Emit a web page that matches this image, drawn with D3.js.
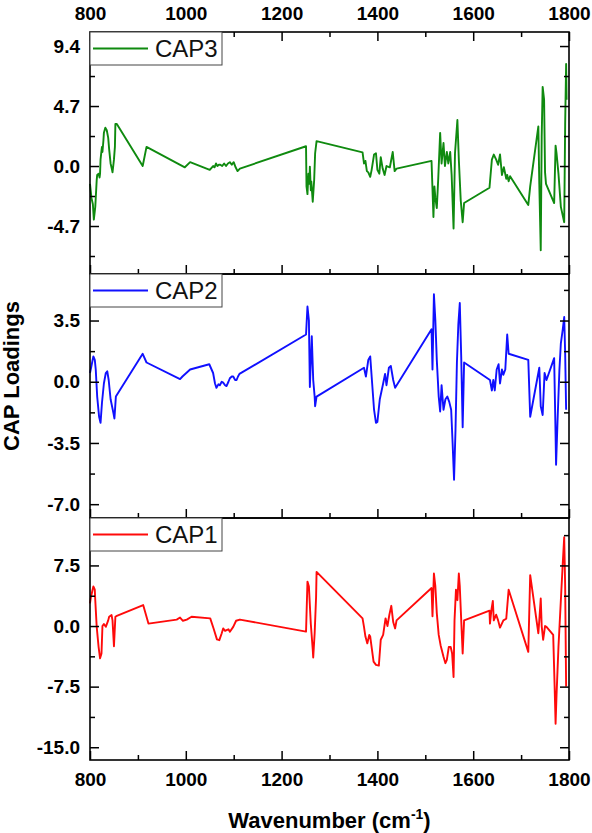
<!DOCTYPE html>
<html>
<head>
<meta charset="utf-8">
<script src="https://cdn.jsdelivr.net/npm/d3@7"></script>
<style>
  body { margin: 0; background: #fff; }
  text { font-family: "Liberation Sans", Arial, sans-serif; }
</style>
</head>
<body>
<div id="chart"></div>
<script>
var width = 592, height = 833;
var xRange = [90, 569];

// x axis ticks (wavenumber)
var xMajor = [800, 1000, 1200, 1400, 1600, 1800];
var xMinor = [900, 1100, 1300, 1500, 1700];

// CAP3 (top panel)
var cap3Wn = [800, 803, 806, 808, 811, 814, 815, 818, 820, 821, 822, 824, 825, 826, 828, 829, 832, 835, 838, 840, 843, 846, 847, 850, 852, 853, 856,
  910, 918, 998, 1009, 1050, 1057, 1060, 1063, 1066, 1069, 1072, 1076, 1080, 1084, 1088, 1092, 1096, 1100, 1104, 1108, 1113,
  1251, 1252, 1254, 1256, 1258, 1259, 1261, 1262, 1265, 1268, 1270, 1273,
  1369, 1372, 1375, 1378, 1381, 1385, 1388, 1393, 1397, 1400, 1404, 1407, 1411, 1415, 1419, 1426, 1432, 1436, 1440,
  1513, 1517, 1519, 1521, 1524, 1527, 1531, 1534, 1538, 1541, 1545, 1548, 1552, 1555, 1559, 1562, 1567, 1570, 1574, 1578, 1581,
  1634, 1639, 1643, 1648, 1652, 1656, 1660, 1664, 1669, 1671, 1674, 1677,
  1715, 1719, 1736, 1738, 1741, 1743, 1745, 1748, 1750, 1752,
  1769, 1772, 1774, 1778, 1783, 1790, 1792, 1794, 1795];
var cap3Val = [-1.4, -2.5, -3.0, -4.2, -3.2, -1.1, -0.7, -0.6, -0.9, -0.6, 0.5, 1.2, 1.5, 1.1, 2.0, 2.6, 3.0, 2.8, 2.2, 1.3, 0.2, -0.3, -0.5, 0.5, 1.5, 3.3, 3.3,
  0.0, 1.5, -0.1, 0.3, -0.3, 0.0, -0.1, 0.2, 0.0, 0.1, 0.1, 0.0, 0.2, 0.0, 0.2, 0.3, 0.1, 0.3, -0.1, -0.4, -0.2,
  1.55, -1.6, -2.2, -0.6, -1.4, -0.05, -1.9, -1.2, -2.8, -1.1, 1.0, 1.95,
  1.07, 0.2, 0.4, -0.4, -0.5, -0.85, -0.3, 0.9, 1.0, -0.3, -0.6, 0.7, -0.2, -0.7, 0.0, -0.1, 1.1, -0.4, -0.2,
  0.4, -4.0, -1.6, -2.5, -3.3, -1.0, 2.6, 0.2, 1.8, 0.0, 1.1, 0.2, 1.1, -0.7, -4.9, 1.0, 3.6, 0.5, -2.7, -4.4, -2.9,
  -1.7, 0.5, 0.9, 0.5, 0.1, 0.9, -0.7, -0.1, -1.0, -0.7, -1.2, -0.8,
  -3.05, -1.6, 3.1, -1.4, -6.6, 2.3, 6.2, 5.2, -0.5, -1.4,
  -2.9, 1.6, 1.0, -0.6, -3.2, -4.4, 3.3, 8.0, 5.2];

// CAP2 (middle panel)
var cap2Wn = [800, 803, 807, 810, 812, 815, 819, 822, 825, 829, 833, 836, 839, 843, 849, 851, 854,
  910, 918, 988, 993, 1009, 1049, 1057, 1061, 1064, 1068, 1071, 1075, 1078, 1082, 1085, 1089, 1092, 1096, 1099, 1103, 1106, 1109, 1112,
  1251, 1254, 1257, 1259, 1263, 1266, 1269, 1270, 1273,
  1372, 1376, 1381, 1385, 1388, 1393, 1397, 1400, 1405, 1412, 1416, 1419, 1424, 1428, 1433, 1437,
  1513, 1515, 1518, 1521, 1524, 1528, 1531, 1534, 1538, 1542, 1546, 1550, 1554, 1557, 1560, 1563, 1566, 1569, 1572, 1575, 1578, 1581,
  1635, 1639, 1642, 1645, 1649, 1653, 1656, 1660, 1663, 1667, 1671, 1674,
  1715, 1719, 1738, 1741, 1745, 1749, 1753, 1769, 1772, 1773, 1776, 1780, 1783, 1787, 1790, 1792, 1794];
var cap2Val = [0.5, 0.9, 1.45, 1.25, 0.7, -0.85, -2.0, -2.35, -1.2, -0.1, 0.5, 0.6, 0.1, -1.0, -1.8, -2.1, -0.85,
  1.6, 1.1, 0.15, 0.3, 0.7, 1.0, 0.5, -0.1, -0.35, -0.15, -0.2, 0.0, -0.05, -0.2, -0.25, 0.0, 0.2, 0.3, 0.3, 0.1, 0.1, 0.3, 0.45,
  2.7, 4.3, 3.5, -0.3, 2.6, 0.1, -0.85, -1.4, -0.85,
  0.8, 0.3, 1.25, 1.45, 0.3, -1.6, -2.35, -2.3, -1.0, -0.1, 0.45, -0.2, 0.8, 0.9, 0.1, -0.35,
  3.0, 0.7, 5.0, 3.5, 1.25, -0.85, -1.7, -0.2, -1.6, -1.0, -0.85, -1.15, -1.6, -3.5, -5.6, -2.8, 1.1, 3.3, 4.5, 1.4, -2.6, 1.1,
  0.1, -0.5, 0.1, -0.5, 0.7, 1.0, -0.1, 0.7, 0.4, 0.7, 2.7, 1.6,
  1.25, -2.0, 0.8, -1.4, -1.9, 0.5, 0.1, 1.35, -3.1, -4.75, -2.3, 0.7, 2.2, 3.0, 3.7, 1.6, -1.6];

// CAP1 (bottom panel)
var cap1Wn = [800, 802, 807, 810, 811, 814, 818, 821, 824, 826, 829, 833, 838, 840, 845, 847, 850, 853, 856,
  911, 922, 981, 988, 994, 1002, 1012, 1051, 1058, 1065, 1070, 1075, 1078, 1082, 1085, 1089, 1092, 1099, 1105, 1113,
  1251, 1254, 1257, 1261, 1265, 1266, 1269, 1272, 1273,
  1369, 1372, 1375, 1379, 1383, 1385, 1392, 1397, 1403, 1407, 1412, 1417, 1421, 1425, 1429, 1433, 1437, 1440,
  1513, 1515, 1518, 1521, 1524, 1528, 1532, 1538, 1542, 1545, 1549, 1553, 1556, 1559, 1561, 1564, 1567, 1570, 1572, 1575, 1578, 1581,
  1634, 1635, 1638, 1641, 1643, 1648, 1652, 1656, 1663, 1669, 1674,
  1715, 1719, 1736, 1738, 1741, 1743, 1746, 1750, 1753, 1767, 1770, 1772, 1774, 1778, 1783, 1787, 1790, 1792, 1794];
var cap1Val = [2.8, 3.6, 4.9, 4.5, 3.2, -0.1, -2.6, -4.0, -3.4, 0.0, 0.25, -0.1, 0.7, 1.15, 1.35, 0.7, -2.5, 1.15, 1.25,
  2.6, 0.3, 0.8, 1.05, 0.65, 0.8, 1.15, 0.95, -0.3, -1.65, -1.75, -0.9, -0.3, -0.6, -0.5, -0.4, -0.7, -0.1, 0.65, 0.8,
  -0.7, 5.5, 4.9, 0.25, -2.9, -3.9, -0.9, 3.6, 6.7,
  0.95, -0.1, -1.3, -2.15, -1.1, -1.3, -4.4, -4.8, -4.9, -1.7, -1.1, 0.95, 0.0, 1.4, 2.5, 0.5, -0.3, 0.7,
  4.7, 1.2, 6.5, 4.9, 1.6, -1.1, -2.4, -3.8, -4.6, -4.2, -2.6, -2.6, -3.4, -6.3, 0.7, 4.5, 3.2, 6.5, 4.9, 0.7, -3.4, 0.7,
  1.9, 0.3, 2.0, 3.1, 0.7, 1.4, 0.7, -0.2, 0.7, 0.9, 4.5,
  -3.2, 6.3, -0.9, 0.7, 3.4, 0.0, -1.7, 0.0, -0.1, -1.1, -7.5, -12.1, -8.5, -2.6, 3.2, 7.8, 11.0, 4.9, -7.5];

// panel settings: y domain and tick values
var panels = [
  { name: "CAP3", color: "#0f8a0f", wn: cap3Wn, val: cap3Val, top: 32, bottom: 274,
    domain: [-8.46, 10.5], major: [-4.7, 0, 4.7, 9.4], minor: [-7.05, -2.35, 2.35, 7.05] },
  { name: "CAP2", color: "#1010ff", wn: cap2Wn, val: cap2Val, top: 274, bottom: 518,
    domain: [-7.79, 6.16], major: [-7, -3.5, 0, 3.5], minor: [-5.25, -1.75, 1.75, 5.25] },
  { name: "CAP1", color: "#ff0a0a", wn: cap1Wn, val: cap1Val, top: 518, bottom: 760,
    domain: [-16.58, 13.37], major: [-15, -7.5, 0, 7.5], minor: [-11.25, -3.75, 3.75, 11.25] }
];

var svg = d3.select("#chart").append("svg")
  .attr("width", width)
  .attr("height", height);

var x = d3.scaleLinear().domain([800, 1800]).range(xRange);

function styleAxis(g) {
  g.select(".domain").remove();
  g.selectAll(".tick line").attr("stroke", "#000").attr("stroke-width", 1.5);
  g.selectAll(".tick text").attr("fill", "#000")
    .style("font-size", "19px").style("font-weight", "bold");
}

panels.forEach(function (p, i) {
  var y = d3.scaleLinear().domain(p.domain).range([p.bottom, p.top]);
  var fmt = function (d) { return d.toFixed(1); };

  // data line
  var pts = p.wn.map(function (w, k) { return [w, p.val[k]]; });
  svg.append("path")
    .datum(pts)
    .attr("fill", "none")
    .attr("stroke", p.color)
    .attr("stroke-width", 1.9)
    .attr("stroke-linejoin", "round")
    .attr("d", d3.line().x(d => x(d[0])).y(d => y(d[1])));

  // left / right axes, ticks pointing inward
  svg.append("g").attr("transform", `translate(${xRange[0]},0)`)
    .call(d3.axisLeft(y).tickValues(p.major).tickFormat(fmt).tickSize(-9).tickPadding(10))
    .call(styleAxis);
  svg.append("g").attr("transform", `translate(${xRange[0]},0)`)
    .call(d3.axisLeft(y).tickValues(p.minor).tickFormat("").tickSize(-5))
    .call(styleAxis);
  svg.append("g").attr("transform", `translate(${xRange[1]},0)`)
    .call(d3.axisRight(y).tickValues(p.major).tickFormat("").tickSize(-9))
    .call(styleAxis);
  svg.append("g").attr("transform", `translate(${xRange[1]},0)`)
    .call(d3.axisRight(y).tickValues(p.minor).tickFormat("").tickSize(-5))
    .call(styleAxis);

  // bottom ticks of each panel (pointing up)
  var last = i === panels.length - 1;
  svg.append("g").attr("transform", `translate(0,${p.bottom})`)
    .call(d3.axisBottom(x).tickValues(xMajor).tickFormat(last ? d3.format("d") : "").tickSize(-9).tickPadding(13))
    .call(styleAxis);
  svg.append("g").attr("transform", `translate(0,${p.bottom})`)
    .call(d3.axisBottom(x).tickValues(xMinor).tickFormat("").tickSize(-5))
    .call(styleAxis);

  if (i === 0) {
    svg.append("g").attr("transform", `translate(0,${p.top})`)
      .call(d3.axisTop(x).tickValues(xMajor).tickFormat(d3.format("d")).tickSize(-9).tickPadding(12))
      .call(styleAxis);
    svg.append("g").attr("transform", `translate(0,${p.top})`)
      .call(d3.axisTop(x).tickValues(xMinor).tickFormat("").tickSize(-5))
      .call(styleAxis);
  }

  // frame
  svg.append("rect")
    .attr("x", xRange[0]).attr("y", p.top)
    .attr("width", xRange[1] - xRange[0]).attr("height", p.bottom - p.top)
    .attr("fill", "none").attr("stroke", "#000").attr("stroke-width", 1.6);

  // legend
  var lg = svg.append("g").attr("transform", `translate(${xRange[0]},${p.top})`);
  lg.append("rect").attr("x", 0).attr("y", 0).attr("width", 132).attr("height", 33)
    .attr("fill", "#fff").attr("stroke", "#444").attr("stroke-width", 1);
  lg.append("line").attr("x1", 3).attr("x2", 58).attr("y1", 16.5).attr("y2", 16.5)
    .attr("stroke", p.color).attr("stroke-width", 1.9);
  lg.append("text").attr("x", 65).attr("y", 25)
    .style("font-size", "24px").attr("fill", "#111").text(p.name);
});

// axis titles
svg.append("text")
  .attr("transform", "translate(19,376) rotate(-90)")
  .attr("text-anchor", "middle")
  .style("font-size", "22px").style("font-weight", "bold")
  .text("CAP Loadings");

var xt = svg.append("text")
  .attr("x", (xRange[0] + xRange[1]) / 2).attr("y", 828)
  .attr("text-anchor", "middle")
  .style("font-size", "22px").style("font-weight", "bold");
xt.append("tspan").text("Wavenumber (cm");
xt.append("tspan").attr("dy", -9).style("font-size", "14px").text("-1");
xt.append("tspan").attr("dy", 9).text(")");
</script>
</body>
</html>
